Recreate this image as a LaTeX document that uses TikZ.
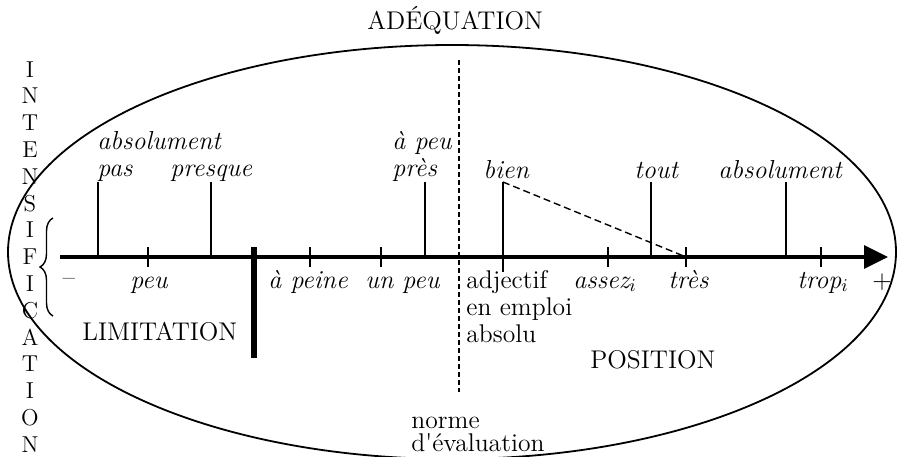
\documentclass[tikz,border=0pt]{standalone}
\usepackage{fontspec}
\usetikzlibrary{arrows.meta,decorations.pathreplacing}
\begin{document}
\begin{tikzpicture}[x=0.5pt,y=-0.5pt,
  it/.style={inner sep=0pt, font=\fontsize{13}{13.5}\selectfont\itshape},
  rm/.style={inner sep=0pt, font=\fontsize{12.8}{13.5}\selectfont},
  thin/.style={line width=0.9pt},
  axisline/.style={line width=1.6pt, -{Triangle[length=12pt,width=11.5pt]}},
  barline/.style={line width=2.6pt},
  normeline/.style={line width=0.7pt, dash pattern=on 2.5pt off 1.5pt},
  diagline/.style={line width=0.7pt, dash pattern=on 3.5pt off 2pt}]
\useasboundingbox (0,0) rectangle (899,456);
% ellipse
\draw[line width=0.9pt] (452,252) ellipse [x radius=444, y radius=207];
% axis
\coordinate (axL) at (60,257);
\coordinate (axR) at (888,257);
\draw[axisline] (axL) -- (axR);
% short ticks
\foreach \n/\x in {peu/148, apeine/310, unpeu/381, assez/608, tres/686, trop/821}{
  \coordinate (t-\n-a) at (\x,247);
  \coordinate (t-\n-b) at (\x,267);
  \draw[thin] (t-\n-a) -- (t-\n-b);
}
% long lines
\foreach \n/\x in {abspas/98, presque/211, apeupres/425, tout/651, absol/786}{
  \coordinate (l-\n-a) at (\x,182);
  \coordinate (l-\n-b) at (\x,257);
  \draw[thin] (l-\n-a) -- (l-\n-b);
}
\coordinate (l-bien-a) at (503,182);
\coordinate (l-bien-b) at (503,272);
\draw[thin] (l-bien-a) -- (l-bien-b);
% dashed diagonal bien -> tres
\coordinate (tresax) at (686,257);
\draw[diagline] (l-bien-a) -- (tresax);
% thick bar
\coordinate (barT) at (254,247);
\coordinate (barB) at (254,358);
\draw[barline] (barT) -- (barB);
% norme dashed line
\coordinate (nT) at (459,60);
\coordinate (nB) at (459,392);
\draw[normeline] (nT) -- (nB);
% brace
\coordinate (brB) at (53,316);
\coordinate (brT) at (53,218);
\draw[decorate, decoration={brace, amplitude=6.5pt}, line width=0.7pt] (brB) -- (brT);
% vertical word
\node[inner sep=0pt, font=\fontsize{11.5}{13.4}\selectfont, align=center, anchor=north] (intens) at (30,61)
  {I\\N\\T\\E\\N\\S\\I\\F\\I\\C\\A\\T\\I\\O\\N};
% title
\node[rm, anchor=base west] (adeq) at (367,29) {ADÉQUATION};
% upper labels
\node[it, align=left, anchor=north west] (abspas) at (97,131) {absolument\\pas};
\node[it, anchor=base west] (presque) at (170,176) {presque};
\node[it, align=left, anchor=north west] (apeupres) at (392,131) {à peu\\près};
\node[it, anchor=base west] (bien) at (483,178) {bien};
\node[it, anchor=base west] (tout) at (634,178) {tout};
\node[it, anchor=base west] (absol) at (718,178) {absolument};
% lower labels
\node[rm, anchor=center] (minus) at (69,282) {–};
\node[rm, anchor=center] (plus) at (882,282) {+};
\node[it, anchor=base west] (peu) at (130,288) {peu};
\node[it, anchor=base west] (apeine) at (268,288) {à peine};
\node[it, anchor=base west] (unpeu) at (365,288) {un peu};
\node[it, anchor=base west] (assez) at (573,288) {assez$_{i}$};
\node[it, anchor=base west] (tres) at (668,288) {très};
\node[it, anchor=base west] (trop) at (797,288) {trop$_{i}$};
\node[rm, align=left, anchor=north west] (adj) at (466,270) {adjectif\\en emploi\\absolu};
\node[rm, anchor=base west] (limit) at (82,340) {LIMITATION};
\node[rm, anchor=base west] (posit) at (590,368) {POSITION};
\node[rm, align=left, anchor=north west, font=\fontsize{12.8}{11.5}\selectfont] (norme) at (411,417) {norme\\d\textquotesingle évaluation};
\end{tikzpicture}
\end{document}
